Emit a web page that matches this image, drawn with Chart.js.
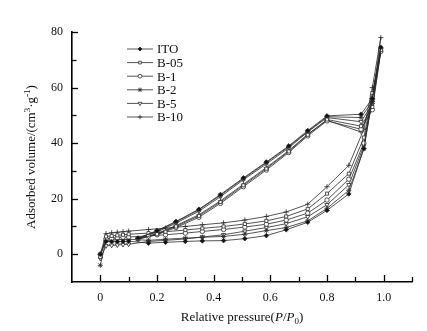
<!DOCTYPE html>
<html><head><meta charset="utf-8">
<script src="https://cdn.jsdelivr.net/npm/chart.js@4/dist/chart.umd.min.js"></script>
<style>html,body{margin:0;padding:0;background:#fff}#wrap{width:427px;height:331px;position:relative}</style>
</head><body><div id="wrap"><canvas id="c"></canvas></div>
<script>
// ---- data ----
const P_ADS = [0, 0.02, 0.04, 0.06, 0.08, 0.1, 0.17, 0.23, 0.3, 0.36, 0.435, 0.51, 0.586, 0.656, 0.732, 0.8, 0.877, 0.93, 0.96, 0.99];
const P_DES = [0.99, 0.96, 0.92, 0.8, 0.732, 0.665, 0.586, 0.505, 0.424, 0.348, 0.267, 0.2, 0.133];

const SERIES = ['ITO', 'B-05', 'B-1', 'B-2', 'B-5', 'B-10'];

const ADS_ITO  = [0, 4.6, 4.5, 4.5, 4.6, 4.7, 4.0, 4.3, 4.6, 4.8, 4.9, 5.6, 6.7, 8.8, 11.5, 15.8, 21.7, 38, 56, 74.5];
const ADS_B05  = [-1, 6.4, 6.6, 6.8, 7.0, 7.2, 7.6, 8.1, 8.7, 9.3, 10.0, 10.9, 12.0, 13.6, 16.3, 21.8, 29, 42, 58, 73.5];
const ADS_B1   = [0, 5.5, 5.7, 5.9, 6.1, 6.2, 6.6, 7.0, 7.6, 8.2, 8.9, 9.8, 10.8, 12.3, 14.8, 19.5, 27, 40, 57, 73];
const ADS_B2   = [-4, 5.0, 5.1, 5.2, 5.3, 5.4, 5.0, 5.4, 5.8, 6.1, 6.4, 7.2, 8.5, 9.6, 12.0, 16.5, 23, 38, 56, 74];
const ADS_B5   = [-1.5, 3.0, 3.2, 3.3, 3.5, 3.6, 4.6, 5.0, 5.5, 6.2, 7.0, 8.3, 9.6, 11.0, 13.5, 17.8, 25, 39, 56.5, 73.5];
const ADS_B10  = [0, 7.4, 7.7, 7.9, 8.1, 8.3, 8.9, 9.4, 10.0, 10.6, 11.3, 12.3, 13.6, 15.2, 18.0, 24.3, 32, 45, 60, 78];

const DES_ITO  = [74.5, 56, 50.4, 49.8, 44.5, 39.0, 33.2, 27.5, 21.5, 16.2, 11.8, 8.5, 5.8];
const DES_B05  = [73.5, 53, 46.1, 48.5, 43.0, 37.0, 30.8, 24.8, 18.8, 13.8, 10.0, 7.2, 5.5];
const DES_B1   = [73, 52, 45.0, 48.0, 42.6, 36.6, 30.3, 24.3, 18.3, 13.3, 9.6, 7.0, 5.4];
const DES_B2   = [74, 55, 49.2, 49.5, 44.2, 38.7, 33.0, 27.2, 21.2, 16.0, 11.6, 8.3, 5.7];
const DES_B5   = [73.5, 54, 47.7, 49.2, 44.0, 38.3, 32.5, 26.8, 20.7, 15.5, 11.2, 8.0, 5.6];
const DES_B10  = [78, 55, 44.0, 48.2, 43.2, 37.3, 31.2, 25.2, 19.2, 14.2, 10.3, 7.4, 5.6];

const X_MIN = -0.1, X_MAX = 1.1, Y_MIN = -10, Y_MAX = 80;

// ---- build ----
const ADS = [ADS_ITO, ADS_B05, ADS_B1, ADS_B2, ADS_B5, ADS_B10];
const DES = [DES_ITO, DES_B05, DES_B1, DES_B2, DES_B5, DES_B10];
const STYLES = [
  {pointStyle:'rectRot', fill:'#111', rot:0, r:2.3},
  {pointStyle:'rect', fill:'#fff', rot:0, r:2.2},
  {pointStyle:'circle', fill:'#fff', rot:0, r:2.2},
  {pointStyle:'star', fill:'#fff', rot:0, r:2.6},
  {pointStyle:'triangle', fill:'#fff', rot:180, r:2.5},
  {pointStyle:'cross', fill:'#fff', rot:0, r:2.6}
];
const LINE = '#2a2a2a';

const datasets = SERIES.map((name, i) => {
  const pts = P_ADS.map((p, k) => ({x: p, y: ADS[i][k]}))
    .concat(P_DES.slice(1).map((p, k) => ({x: p, y: DES[i][k + 1]})));
  const s = STYLES[i];
  return {
    label: name, data: pts, borderColor: LINE, borderWidth: 0.8,
    pointStyle: s.pointStyle, pointRotation: s.rot, pointRadius: s.r,
    pointBackgroundColor: s.fill, pointBorderColor: LINE, pointBorderWidth: 0.8,
    showLine: true, tension: 0, fill: false
  };
});

const FONT = "'Liberation Serif','Times New Roman',serif";

const decor = {
  id: 'decor',
  afterDraw(chart) {
    const ctx = chart.ctx, xs = chart.scales.x, ys = chart.scales.y;
    const ax = xs.left, ay = ys.bottom;
    ctx.save();
    ctx.strokeStyle = '#000'; ctx.lineWidth = 1.3;
    // inward ticks
    for (let v = Y_MIN + 10; v <= Y_MAX + 0.001; v += 10) {
      const y = Math.round(ys.getPixelForValue(v)) + 0.5;
      const len = (v % 20 === 0) ? 6 : 4.5;
      ctx.beginPath(); ctx.moveTo(ax, y); ctx.lineTo(ax + len, y); ctx.stroke();
    }
    for (let k = 0; k <= 11; k++) {
      const v = k / 10;
      const x = Math.round(xs.getPixelForValue(v)) + 0.5;
      const len = (k % 2 === 0) ? 7 : 5;
      ctx.beginPath(); ctx.moveTo(x, ay); ctx.lineTo(x, ay - len); ctx.stroke();
    }
    // x title
    ctx.fillStyle = '#111'; ctx.textBaseline = 'alphabetic';
    const parts = [
      {t:'Relative pressure(', f:'13px ' + FONT, dy:0},
      {t:'P', f:'italic 13px ' + FONT, dy:0},
      {t:'/', f:'13px ' + FONT, dy:0},
      {t:'P', f:'italic 13px ' + FONT, dy:0},
      {t:'0', f:'9px ' + FONT, dy:3},
      {t:')', f:'13px ' + FONT, dy:0}
    ];
    let w = 0;
    parts.forEach(p => { ctx.font = p.f; p.w = ctx.measureText(p.t).width; w += p.w; });
    let x0 = (xs.left + xs.right) / 2 - w / 2;
    const by = 321;
    parts.forEach(p => { ctx.font = p.f; ctx.fillText(p.t, x0, by + p.dy); x0 += p.w; });
    // y title
    const yparts = [
      {t:'Adsorbed volume/(cm', f:'13px ' + FONT, dy:0},
      {t:'3', f:'9px ' + FONT, dy:-5},
      {t:'·g', f:'13px ' + FONT, dy:0},
      {t:'-1', f:'9px ' + FONT, dy:-5},
      {t:')', f:'13px ' + FONT, dy:0}
    ];
    w = 0;
    yparts.forEach(p => { ctx.font = p.f; p.w = ctx.measureText(p.t).width; w += p.w; });
    ctx.translate(35, (ys.top + ys.bottom) / 2);
    ctx.rotate(-Math.PI / 2);
    x0 = -w / 2;
    yparts.forEach(p => { ctx.font = p.f; ctx.fillText(p.t, x0, p.dy); x0 += p.w; });
    ctx.restore();
    // legend
    ctx.save();
    const lx0 = 127, lx1 = 153, tx = 157, ry0 = 49, rstep = 13.6;
    SERIES.forEach((name, i) => {
      const y = ry0 + i * rstep;
      ctx.strokeStyle = LINE; ctx.lineWidth = 0.8;
      ctx.beginPath(); ctx.moveTo(lx0, y); ctx.lineTo(lx1, y); ctx.stroke();
      const s = STYLES[i];
      ctx.fillStyle = s.fill; ctx.strokeStyle = LINE; ctx.lineWidth = 0.8;
      Chart.helpers.drawPoint(ctx, {pointStyle: s.pointStyle, rotation: s.rot, radius: s.r - 0.3, borderWidth: 0.8}, (lx0 + lx1) / 2, y);
      ctx.fillStyle = '#111'; ctx.font = '13px ' + FONT; ctx.textBaseline = 'middle';
      ctx.fillText(name, tx, y + 1);
    });
    ctx.restore();
  }
};

new Chart(document.getElementById('c'), {
  type: 'line',
  data: {datasets},
  options: {
    responsive: true, maintainAspectRatio: false, animation: false, devicePixelRatio: 1,
    layout: {padding: {left: 0, right: 15, top: 32, bottom: 0}},
    plugins: {legend: {display: false}, tooltip: {enabled: false}},
    scales: {
      x: {
        type: 'linear', min: X_MIN, max: X_MAX,
        afterFit(s) { s.height = 49; },
        grid: {display: false, drawTicks: false},
        border: {display: true, color: '#000', width: 1.6},
        ticks: {stepSize: 0.1, padding: 9, color: '#111', font: {family: FONT, size: 12},
          autoSkip: false, maxRotation: 0,
          callback(v) { const k = Math.round(v * 10); if (k < 0 || k % 2 !== 0 || k > 10) return ''; return k === 0 ? '0' : (k / 10).toFixed(1); }}
      },
      y: {
        type: 'linear', min: Y_MIN, max: Y_MAX,
        afterFit(s) { s.width = 72; },
        grid: {display: false, drawTicks: false},
        border: {display: true, color: '#000', width: 1.6},
        ticks: {stepSize: 10, padding: 9, color: '#111', font: {family: FONT, size: 12}, autoSkip: false,
          callback(v) { return (v % 20 === 0) ? String(v) : ''; }}
      }
    }
  },
  plugins: [decor]
});
</script></body></html>
